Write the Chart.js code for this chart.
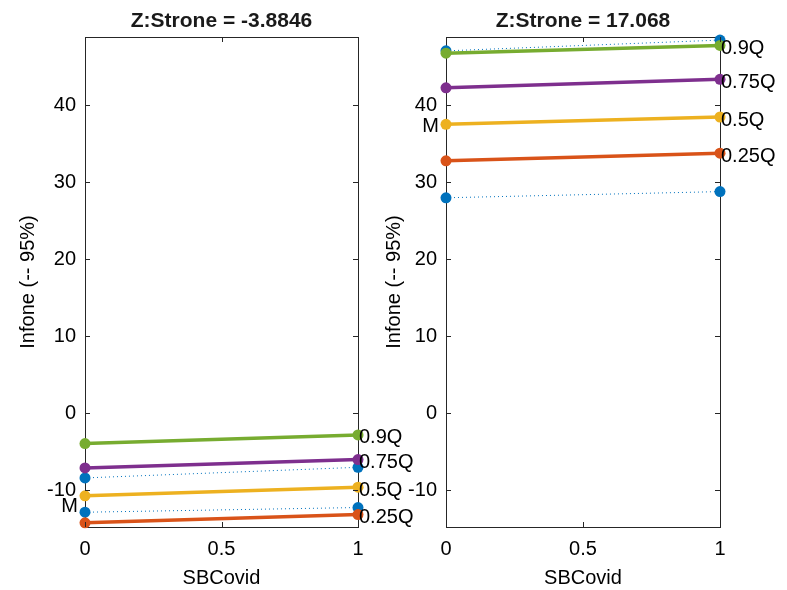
<!DOCTYPE html>
<html lang="en">
<head>
  <meta charset="UTF-8">
  <title>Quantile plot</title>
  <style>
    *{box-sizing:border-box;margin:0;padding:0}
    body{background:#fff;width:787px;height:590px;overflow:hidden;position:relative;font-family:'Liberation Sans',Arial,sans-serif;}
    canvas{position:absolute;left:0;top:0;}
  </style>
</head>
<body>
  <canvas id="leftPlot" width="787" height="590"></canvas>
  <canvas id="rightPlot" width="787" height="590"></canvas>

  <script src="https://cdn.jsdelivr.net/npm/chart.js"></script>
  <script>
    // x positions (SBCovid)
    const xVals = [0, 1];
    const xTicks = [0, 0.5, 1];
    const yTicks = [-10, 0, 10, 20, 30, 40];
    const yMin = -14.8, yMax = 48.9;

    const qNames = ['0.25Q', '0.5Q', '0.75Q', '0.9Q'];
    const titles = ['Z:Strone = -3.8846', 'Z:Strone = 17.068'];

    // left panel
    const q25L = [-14.26, -13.18];
    const q50L = [-10.75, -9.63];
    const q75L = [-7.12, -6.04];
    const q90L = [-3.96, -2.83];
    const ciLoL = [-12.88, -12.27];
    const ciHiL = [-8.42, -7.04];
    const mL = -12.1;

    // right panel
    const q25R = [32.8, 33.8];
    const q50R = [37.55, 38.5];
    const q75R = [42.3, 43.4];
    const q90R = [46.8, 47.8];
    const ciLoR = [28.0, 28.8];
    const ciHiR = [47.1, 48.5];
    const mR = 37.3;

    const qColors = ['#D95319', '#EDB120', '#7E2F8E', '#77AC30'];
    const ciColor = '#0072BD';
    const axisColor = '#262626';
    const FONT = "'Liberation Sans', Arial, sans-serif";

    const pts = arr => arr.map((y, i) => ({x: xVals[i], y}));

    // inward tick marks, quantile labels, M label and title
    const decor = {
      id: 'decor',
      afterDraw(chart, args, o) {
        const {ctx, chartArea: a, scales} = chart;
        const xs = scales.x, ys = scales.y;
        ctx.save();
        ctx.strokeStyle = axisColor; ctx.lineWidth = 1;
        ctx.beginPath();
        xTicks.forEach(v => {
          const px = Math.round(xs.getPixelForValue(v)) + 0.5;
          ctx.moveTo(px, a.bottom); ctx.lineTo(px, a.bottom - 5);
          ctx.moveTo(px, a.top); ctx.lineTo(px, a.top + 5);
        });
        yTicks.forEach(v => {
          const py = Math.round(ys.getPixelForValue(v)) + 0.5;
          ctx.moveTo(a.left, py); ctx.lineTo(a.left + 5, py);
          ctx.moveTo(a.right, py); ctx.lineTo(a.right - 5, py);
        });
        ctx.stroke();

        ctx.fillStyle = '#000';
        ctx.font = '20px ' + FONT;
        ctx.textBaseline = 'middle';
        ctx.textAlign = 'left';
        o.qEnds.forEach((v, i) => {
          ctx.fillText(qNames[i], xs.getPixelForValue(1) + 1, ys.getPixelForValue(v) + 3);
        });
        ctx.textAlign = 'right';
        ctx.fillText('M', xs.getPixelForValue(0) - 7, ys.getPixelForValue(o.m));

        ctx.font = 'bold 21px ' + FONT;
        ctx.textAlign = 'center';
        ctx.fillStyle = '#1a1a1a';
        ctx.fillText(o.title, (a.left + a.right) / 2, 21);
        ctx.restore();
      }
    };

    function makePanel(id, qs, ciLo, ciHi, m, title, left, right, yTitlePad) {
      const qSets = qs.map((d, i) => ({
        data: pts(d), borderColor: qColors[i], backgroundColor: qColors[i],
        borderWidth: 3.5, pointRadius: 5.5, pointBorderWidth: 0, clip: false, order: 1
      }));
      const ciSet = d => ({
        data: pts(d), borderColor: ciColor, backgroundColor: ciColor,
        borderWidth: 1, borderDash: [1, 3], pointRadius: 5.5, pointBorderWidth: 0, clip: false, order: 2
      });
      const tickFont = {family: FONT, size: 20};
      new Chart(document.getElementById(id), {
        type: 'line',
        data: {datasets: [ciSet(ciLo), ciSet(ciHi), ...qSets]},
        options: {
          responsive: false, animation: false,
          layout: {padding: 0},
          plugins: {
            legend: {display: false}, tooltip: {enabled: false},
            decor: {qEnds: qs.map(d => d[1]), m, title}
          },
          scales: {
            x: {
              type: 'linear', position: 'bottom', min: 0, max: 1,
              afterBuildTicks: s => { s.ticks = xTicks.map(v => ({value: v})); },
              afterFit: s => { s.height = 63; },
              grid: {display: false, drawTicks: false},
              border: {color: axisColor},
              ticks: {font: tickFont, color: '#000', padding: 10, maxRotation: 0, callback: v => String(v)},
              title: {display: true, text: 'SBCovid', font: tickFont, color: '#000', padding: {top: 0, bottom: 0}}
            },
            x2: {
              type: 'linear', position: 'top', min: 0, max: 1,
              afterFit: s => { s.height = 37; },
              grid: {display: false, drawTicks: false},
              border: {color: axisColor},
              ticks: {display: false}
            },
            y: {
              type: 'linear', position: 'left', min: yMin, max: yMax,
              afterBuildTicks: s => { s.ticks = yTicks.map(v => ({value: v})); },
              afterFit: s => { s.width = left; },
              grid: {display: false, drawTicks: false},
              border: {color: axisColor},
              ticks: {font: tickFont, color: '#000', padding: 9},
              title: {display: true, text: 'Infone (-- 95%)', font: tickFont, color: '#000', padding: {top: yTitlePad, bottom: 0}}
            },
            y2: {
              type: 'linear', position: 'right', min: yMin, max: yMax,
              afterFit: s => { s.width = 787 - right; },
              grid: {display: false, drawTicks: false},
              border: {color: axisColor},
              ticks: {display: false}
            }
          }
        },
        plugins: [decor]
      });
    }

    makePanel('leftPlot', [q25L, q50L, q75L, q90L], ciLoL, ciHiL, mL, titles[0], 85, 358, 16);
    makePanel('rightPlot', [q25R, q50R, q75R, q90R], ciLoR, ciHiR, mR, titles[1], 446, 720, 382);
  </script>
</body>
</html>
